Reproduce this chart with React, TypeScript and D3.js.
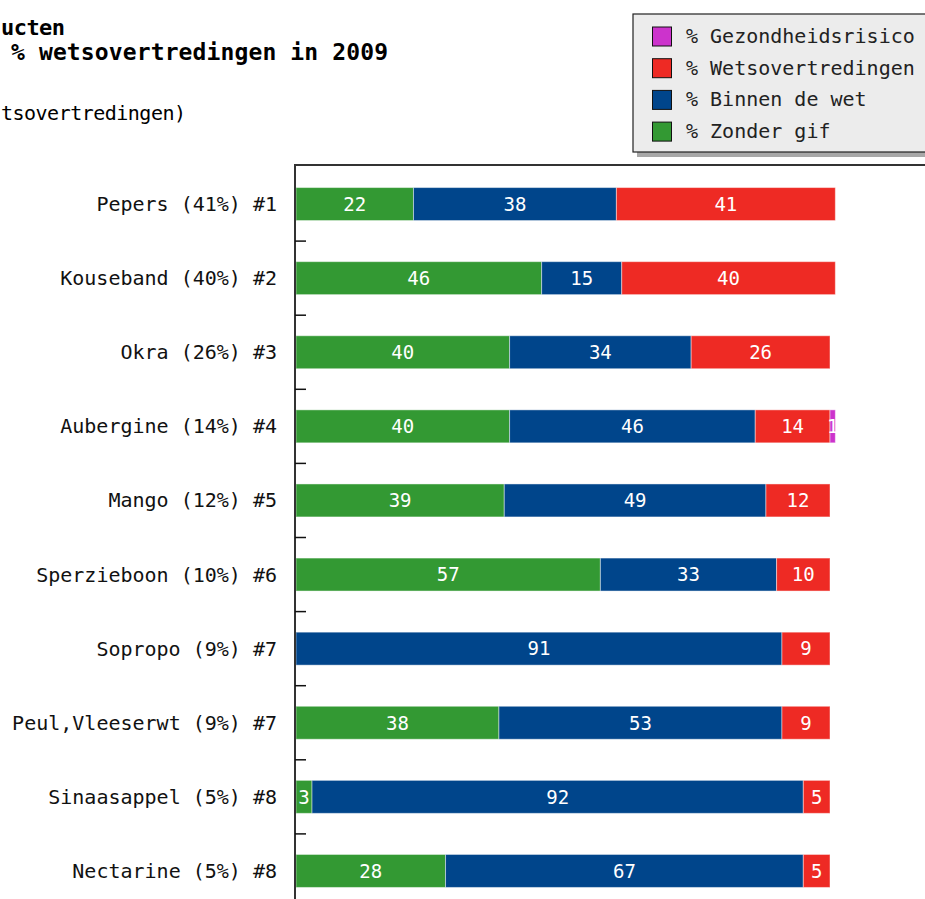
import React from 'react';
import * as d3 from 'd3';

const products = [
  'Pepers (41%) #1',
  'Kouseband (40%) #2',
  'Okra (26%) #3',
  'Aubergine (14%) #4',
  'Mango (12%) #5',
  'Sperzieboon (10%) #6',
  'Sopropo (9%) #7',
  'Peul,Vleeserwt (9%) #7',
  'Sinaasappel (5%) #8',
  'Nectarine (5%) #8',
];

const zonderGif = [22, 46, 40, 40, 39, 57, 0, 38, 3, 28];
const binnenDeWet = [38, 15, 34, 46, 49, 33, 91, 53, 92, 67];
const wetsovertredingen = [41, 40, 26, 14, 12, 10, 9, 9, 5, 5];
const gezondheidsrisico = [0, 0, 0, 1, 0, 0, 0, 0, 0, 0];

const seriesKeys = ['zonder', 'binnen', 'wets', 'gezond'];
const seriesColors = ['#339933', '#00458b', '#ee2a24', '#cc33cc'];
const legendLabels = ['% Gezondheidsrisico', '% Wetsovertredingen', '% Binnen de wet', '% Zonder gif'];
const legendColors = ['#cc33cc', '#ee2a24', '#00458b', '#339933'];

// the original picture is cropped on the left, only these parts of the titles show
const titleLine1 = 'ucten';
const titleLine2 = '% wetsovertredingen in 2009';
const subTitle = 'tsovertredingen)';

const W = 925;
const H = 899;
const font = '"DejaVu Sans Mono", monospace';

export default function App() {
  const rows = products.map((p, i) => ({
    name: p,
    zonder: zonderGif[i],
    binnen: binnenDeWet[i],
    wets: wetsovertredingen[i],
    gezond: gezondheidsrisico[i],
  }));

  const stacked = d3.stack<any>().keys(seriesKeys)(rows);

  const plotLeft = 295;
  const plotTop = 165;

  const x = d3.scaleLinear().domain([0, 100]).range([296, 830]);
  const y = d3.scaleBand<string>().domain(products).range([167, 167 + 74.1 * products.length]).paddingInner(0.555).paddingOuter(0.2775);

  const tickYs = products.slice(1).map(p => (y(p) as number) - (y.step() - y.bandwidth()) / 2);

  return (
    <svg width={W} height={H} style={{ position: 'absolute', left: 0, top: 0, background: '#fff' }} fontFamily={font}>
      {/* titles */}
      <text x={1} y={35} fontSize={22} fontWeight="bold" fill="#000" textLength={64} lengthAdjust="spacing">{titleLine1}</text>
      <text x={11} y={60} fontSize={23} fontWeight="bold" fill="#000" textLength={377} lengthAdjust="spacing">{titleLine2}</text>
      <text x={1} y={120} fontSize={20} fill="#000" textLength={185} lengthAdjust="spacing">{subTitle}</text>

      {/* legend */}
      <rect x={637} y={18} width={320} height={139} fill="#a8a8a8" />
      <rect x={633} y={14} width={320} height={138} fill="#ececec" stroke="#222" strokeWidth={1.2} />
      {legendLabels.map((l, i) => (
        <g key={l} transform={`translate(0, ${36 + i * 31.7})`}>
          <rect x={652.5} y={-9} width={19} height={19} fill={legendColors[i]} stroke="#111" strokeWidth={1} />
          <text x={686} y={0} dy="0.35em" fontSize={20} fill="#222">{l}</text>
        </g>
      ))}

      {/* bars */}
      {stacked.map((s, si) => (
        <g key={s.key}>
          {s.map((d, i) => {
            const v = d[1] - d[0];
            if (v <= 0) return null;
            const x0 = x(d[0]);
            const x1 = x(d[1]);
            return (
              <g key={i}>
                <rect
                  x={x0}
                  y={y(products[i])}
                  width={x1 - x0}
                  height={y.bandwidth()}
                  fill={seriesColors[si]}
                  stroke="#ffffff"
                  strokeOpacity={0.45}
                  strokeWidth={1}
                />
                <text
                  x={(x0 + x1) / 2}
                  y={(y(products[i]) as number) + y.bandwidth() / 2}
                  dy="0.36em"
                  textAnchor="middle"
                  fontSize={19}
                  fill="#fff"
                >
                  {v}
                </text>
              </g>
            );
          })}
        </g>
      ))}

      {/* category labels */}
      {products.map(p => (
        <text key={p} x={277} y={(y(p) as number) + y.bandwidth() / 2} dy="0.35em" textAnchor="end" fontSize={20} fill="#111">
          {p}
        </text>
      ))}

      {/* plot frame */}
      <line x1={plotLeft} x2={W} y1={plotTop} y2={plotTop} stroke="#333" strokeWidth={2} />
      <line x1={plotLeft} x2={plotLeft} y1={plotTop - 1} y2={H} stroke="#333" strokeWidth={2} />
      {tickYs.map((t, i) => (
        <line key={i} x1={plotLeft} x2={plotLeft + 11} y1={t} y2={t} stroke="#111" strokeWidth={1.5} />
      ))}
    </svg>
  );
}
